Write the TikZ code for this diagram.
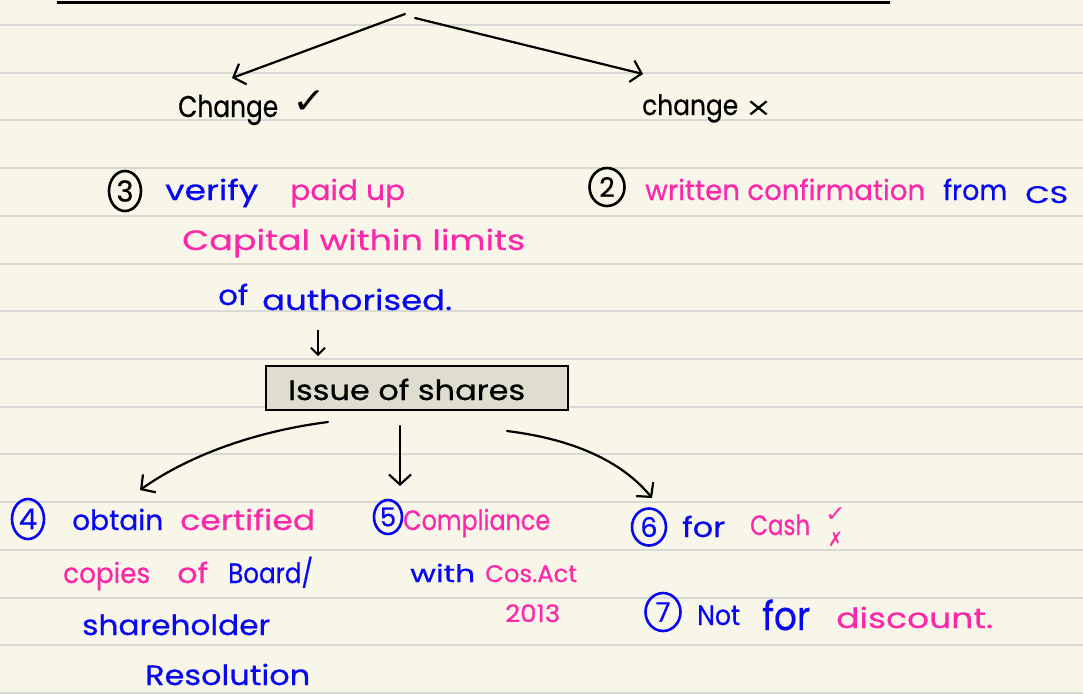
\documentclass[tikz,border=0pt]{standalone}
\usepackage{fontspec}
\usepackage{graphicx}
\setmainfont{Poppins}[FakeBold=0.6]
\newfontfamily\symfont{DejaVu Sans}
\usetikzlibrary{arrows.meta,shapes.geometric}

\definecolor{paper}{RGB}{248,246,233}
\definecolor{ruling}{RGB}{216,216,212}
\definecolor{inkblue}{RGB}{8,8,240}
\definecolor{inkpink}{RGB}{252,40,170}
\definecolor{boxfill}{RGB}{222,221,208}

% set a word at a given font size and squeeze/stretch it to a given width
\newlength\wordlen
\newcommand\fitto[2]{\settowidth\wordlen{#2}\pgfmathsetmacro\fitratio{#1/\wordlen}\scalebox{\fitratio}[1]{#2}}

\tikzset{
  fs/.style={font=\fontsize{#1}{#1}\selectfont},
  word/.style={anchor=base west, inner sep=0pt, fs=28},
  blackword/.style={word, text=black},
  blueword/.style={word, text=inkblue},
  pinkword/.style={word, text=inkpink},
  sym/.style={anchor=base west, inner sep=0pt, font=\symfont\fontsize{#1}{#1}\selectfont},
  num/.style={ellipse, draw=black, text=black, line width=2.6pt, minimum width=32pt,
              minimum height=40pt, inner sep=0pt, fs=29},
  bluenum/.style={num, draw=inkblue, text=inkblue},
  pen/.style={line width=2.2pt, line cap=round,
              -{Straight Barb[length=10pt, width=22pt, line width=2.2pt]}},
}

\begin{document}
\begin{tikzpicture}[x=1pt, y=-1pt]
  % paper and ruling
  \useasboundingbox (0,0) rectangle (1083,694);
  \fill[paper] (0,0) rectangle (1083,694);
  \foreach \k in {0,...,14}
    \draw[ruling, line width=2pt] (0,{25+47.71*\k}) -- (1083,{25+47.71*\k});

  % heading rule
  \coordinate (ruleL) at (57,2);
  \coordinate (ruleR) at (890,2);
  \draw[line width=3pt] (ruleL) -- (ruleR);

  % two branches
  \node[blackword, fs=30] (chgyes) at (178,117) {\fitto{100pt}{Change}};
  \node[sym=36, text=black] (tickyes) at (292,113) {\fitto{34pt}{✓}};
  \node[blackword, fs=28] (chgno) at (642,115) {\fitto{96pt}{change}};
  \node[sym=26, text=black] (crossno) at (745,116) {\fitto{27pt}{×}};

  \coordinate (fromL) at (405,14);
  \coordinate (fromR) at (415,18);
  \coordinate (tipyes) at (232,78);
  \coordinate (tipno) at (643,74);
  \draw[pen] (fromL) -- (tipyes);
  \draw[pen] (fromR) -- (tipno);

  % left branch: step 3
  \node[num] (n3) at (125,191) {3};
  \node[blueword] (verify) at (165,200) {\fitto{93pt}{verify}};
  \node[pinkword] (paidup) at (290,200) {\fitto{115pt}{paid up}};
  \node[pinkword] (capital) at (182,250) {\fitto{343pt}{Capital within limits}};
  \node[blueword] (of1) at (218,305) {\fitto{30pt}{of}};
  \node[blueword] (authorised) at (262,310) {\fitto{190pt}{authorised.}};

  % issue of shares
  \node[draw=black, fill=boxfill, line width=2.4pt, minimum width=302pt,
        minimum height=44pt, inner sep=0pt] (issue) at (417,388) {};
  \node[blackword] (issuetext) at (288,400) {\fitto{237pt}{Issue of shares}};
  \coordinate (downA) at (318,330);
  \coordinate (downB) at (318,356);
  \draw[line width=1.8pt, -{Straight Barb[length=7pt, width=14pt, line width=1.8pt]}]
        (downA) -- (downB);

  % three consequences of the issue
  \coordinate (outL) at (328,422);
  \coordinate (outM) at (400,426);
  \coordinate (outR) at (507,431);
  \coordinate (tipfour) at (140,490);
  \coordinate (tipfive) at (400,486);
  \coordinate (tipsix) at (652,498);
  \draw[pen] (outL) .. controls (250,432) and (185,458) .. (tipfour);
  \draw[pen] (outM) -- (tipfive);
  \draw[pen] (outR) .. controls (580,440) and (625,465) .. (tipsix);

  % step 4
  \node[bluenum] (n4) at (28,519) {4};
  \node[blueword] (obtain) at (72,530) {\fitto{91pt}{obtain}};
  \node[pinkword] (certified) at (180,530) {\fitto{135pt}{certified}};
  \node[pinkword] (copies) at (63,583) {\fitto{87pt}{copies}};
  \node[pinkword] (of2) at (177,583) {\fitto{31pt}{of}};
  \node[blueword] (board) at (228,583) {\fitto{85pt}{Board/}};
  \node[blueword] (shareholder) at (82,635) {\fitto{188pt}{shareholder}};
  \node[blueword] (resolution) at (145,685) {\fitto{165pt}{Resolution}};

  % step 5
  \node[bluenum, minimum width=28pt, minimum height=34pt, fs=26] (n5) at (388,517) {5};
  \node[pinkword] (compliance) at (403,530) {\fitto{147pt}{Compliance}};
  \node[blueword, fs=24] (with) at (410,582) {\fitto{65pt}{with}};
  \node[pinkword, fs=24] (cosact) at (485,582) {\fitto{92pt}{Cos.Act}};
  \node[pinkword, fs=24] (year) at (505,622) {\fitto{55pt}{2013}};

  % step 6
  \node[bluenum, minimum width=34pt, minimum height=37pt, fs=27] (n6) at (649,527) {6};
  \node[blueword] (for1) at (682,537) {\fitto{43pt}{for}};
  \node[pinkword] (cash) at (750,535) {\fitto{60pt}{Cash}};
  \node[sym=22, text=inkpink] (ticksix) at (825,521) {\fitto{21pt}{✓}};
  \node[sym=20, text=inkpink] (crosssix) at (828,546) {\fitto{15pt}{✗}};

  % step 7
  \node[bluenum, minimum width=35pt, minimum height=38pt, fs=27] (n7) at (663,612) {7};
  \node[blueword] (notw) at (697,625) {\fitto{43pt}{Not}};
  \node[blueword, fs=40] (for2) at (762,630) {\fitto{48pt}{for}};
  \node[pinkword] (discount) at (836,628) {\fitto{157pt}{discount.}};

  % right branch: step 2
  \node[num, minimum width=35pt, minimum height=38pt, fs=27] (n2) at (607,187) {2};
  \node[pinkword] (written) at (645,200) {\fitto{280pt}{written confirmation}};
  \node[blueword] (from) at (943,200) {\fitto{64pt}{from}};
  \node[blueword, fs=24] (cs) at (1025,203) {\fitto{43pt}{CS}};
\end{tikzpicture}
\end{document}
